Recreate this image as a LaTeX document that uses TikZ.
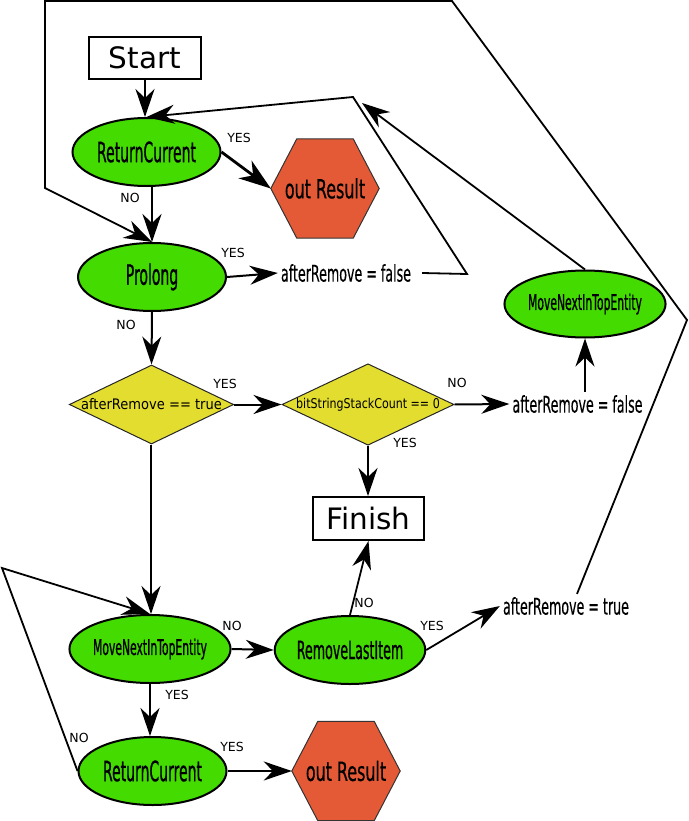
\documentclass[tikz,border=0pt]{standalone}
\usepackage{fontspec}
\setmainfont{DejaVu Sans}
\newfontfamily\cnA[FakeStretch=0.5,FakeBold=0.6]{DejaVu Sans}
\newfontfamily\cnB[FakeStretch=0.6,FakeBold=0.4]{DejaVu Sans}
\newfontfamily\cnE[FakeStretch=0.55,FakeBold=0.3]{DejaVu Sans}
\newfontfamily\cnC[FakeStretch=0.9]{DejaVu Sans}
\newfontfamily\cnD[FakeStretch=0.82]{DejaVu Sans}
\usetikzlibrary{shapes.geometric,arrows.meta,backgrounds,calc}
\definecolor{grn}{HTML}{44DB00}
\definecolor{ylw}{HTML}{E3DD30}
\definecolor{org}{HTML}{E45A36}
\begin{document}
\begin{tikzpicture}[x=1pt,y=-1pt,
  ell/.style={ellipse,draw,line width=2pt,fill=grn,inner sep=0pt,minimum width=148pt,minimum height=68pt},
  fA/.style={font=\cnA\fontsize{28}{28}\selectfont},
  fM/.style={font=\cnA\fontsize{21.6}{21.6}\selectfont},
  fR/.style={font=\cnA\fontsize{25.3}{25.3}\selectfont},
  hexn/.style={inner sep=0pt,minimum width=108pt,minimum height=99pt,font=\cnB\fontsize{26.5}{26.5}\selectfont},
  hexfill/.style={fill=org,draw=black!80,line width=1pt},
  dia/.style={diamond,draw=black!85,line width=1pt,fill=ylw,inner sep=0pt,shape aspect=2.1},
  boxn/.style={draw,line width=2pt,fill=white,inner sep=0pt,font=\fontsize{29.5}{29.5}\selectfont},
  asg/.style={inner sep=3pt,font=\cnE\fontsize{23}{23}\selectfont},
  lbl/.style={inner sep=0pt,font=\fontsize{12.5}{12.5}\selectfont},
  arr/.style={line width=2pt,-{Stealth[length=28pt,width=19pt,inset=9pt]}},
  arrbig/.style={line width=2.8pt,-{Stealth[length=32pt,width=22pt,inset=10pt]}},
  arrthin/.style={line width=1.8pt,-{Stealth[length=28pt,width=19pt,inset=9pt]}}
]
\useasboundingbox (0,0) rectangle (688,821);

% nodes
\node[boxn,minimum width=112pt,minimum height=42pt] (start) at (145,58) {Start};
\node[ell,fA] (rc1) at (146.5,152) {ReturnCurrent};
\node[hexn] (or1) at (325,188.5) {out Result};
\node[ell,fA] (pro) at (152,277) {Prolong};
\node[asg] (af1) at (346,273) {afterRemove = false};
\node[dia,minimum width=161pt,minimum height=79pt,font=\cnC\fontsize{14.5}{14.5}\selectfont] (d1) at (151.5,404.5) {afterRemove == true};
\node[dia,minimum width=172pt,minimum height=79pt,font=\cnD\fontsize{13.5}{13.5}\selectfont] (d2) at (368,404.5) {bitStringStackCount == 0};
\node[asg] (af2) at (577.5,404) {afterRemove = false};
\node[ell,fM,minimum height=67pt] (mn2) at (585,304) {MoveNextInTopEntity};
\node[boxn,minimum width=111pt,minimum height=43pt] (fin) at (368.5,518.5) {Finish};
\node[ell,fM] (mn1) at (150,649) {MoveNextInTopEntity};
\node[ell,fR] (rl) at (350,650) {RemoveLastItem};
\node[asg] (at) at (566,606) {afterRemove = true};
\node[ell,fA] (rc2) at (152.5,771) {ReturnCurrent};
\node[hexn] (or2) at (346,771) {out Result};

% hexagons
\begin{scope}[on background layer]
\draw[hexfill] (or1.west) -- ([xshift=26pt]or1.north west) -- ([xshift=-26pt]or1.north east) -- (or1.east) -- ([xshift=-26pt]or1.south east) -- ([xshift=26pt]or1.south west) -- cycle;
\draw[hexfill] (or2.west) -- ([xshift=26pt]or2.north west) -- ([xshift=-26pt]or2.north east) -- (or2.east) -- ([xshift=-26pt]or2.south east) -- ([xshift=26pt]or2.south west) -- cycle;
\end{scope}

% coordinates for loops
\coordinate (p1) at (467,274);
\coordinate (p2) at (353,97);
\coordinate (tipA) at (362,103);
\coordinate (c1) at (687,320);
\coordinate (c2) at (452,1);
\coordinate (c3) at (45,1);
\coordinate (c4) at (45,188);
\coordinate (lc) at (2,568);

% connectors
\draw[arr] (start.south) -- (start.south |- rc1.north);
\draw[arrbig] (rc1.east) -- (or1.west);
\draw[arr] (rc1.south -| pro.north) -- (pro.north);
\draw[arr] (pro.east) -- (af1.west);
\draw[arrthin] ([xshift=8pt]af1.east) -- (p1) -- (p2) -- (rc1.north);
\draw[arrthin] (mn2.north) -- (tipA);
\draw[arr] (pro.south) -- (d1.north);
\draw[arr] (d1.east) -- (d2.west);
\draw[arr] (d2.east) -- (af2.west);
\draw[arr] (af2.north -| mn2.south) -- (mn2.south);
\draw[arr] (d2.south) -- (d2.south |- fin.north);
\draw[arrthin] ([xshift=-0.5pt]d1.south) -- ([xshift=-0.5pt]d1.south |- mn1.north);
\draw[arr] (mn1.east) -- (rl.west);
\draw[arr] (mn1.south) -- (mn1.south |- rc2.north);
\draw[arr] (rc2.east) -- (or2.west);
\draw[arrthin] (rl.north) -- (fin.south);
\draw[arrthin] (rl.east) -- (at.west);
\draw[arrthin] (rc2.west) -- (lc) -- (mn1.north);
\draw[arrthin] ([xshift=11pt]at.north) -- (c1) -- (c2) -- (c3) -- (c4) -- (pro.north);

% labels
\node[lbl] (l1) at (239,138) {YES};
\node[lbl] (l2) at (130,198) {NO};
\node[lbl] (l3) at (233,253) {YES};
\node[lbl] (l4) at (126,325) {NO};
\node[lbl] (l5) at (225,384) {YES};
\node[lbl] (l6) at (457,383) {NO};
\node[lbl] (l7) at (405,443) {YES};
\node[lbl] (l8) at (232,626) {NO};
\node[lbl] (l9) at (177,695) {YES};
\node[lbl] (l10) at (79,738) {NO};
\node[lbl] (l11) at (232,747) {YES};
\node[lbl] (l12) at (364,603) {NO};
\node[lbl] (l13) at (432,626) {YES};
\end{tikzpicture}
\end{document}
